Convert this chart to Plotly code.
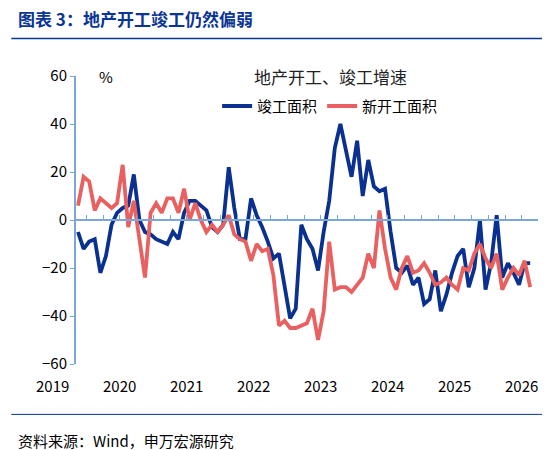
import plotly.graph_objects as go

# monthly yoy growth (%), index 0 = first month shown
completed = [-5, -12, -9, -8, -22, -15, -2, 3, 5, 6, 19, 0, -5, -6, -8, -9, -10, -5, -8, 3,
             8, 8, 6, 4, -3, -5, -2, 22, 5, -8, -8, 9, 2, -3, -9, -16, -14, -28, -41, -37,
             -2, -8, -12, -21, -5, 8, 30, 40, 28, 18, 33, 10, 25, 14, 12, 13, -5, -20, -22, -19,
             -27, -24, -35, -33, -21, -38, -31, -22, -15, -12, -28, -20, 0, -29, -18, 2, -24, -18, -22, -27,
             -18, -18]
new_starts = [6, 18, 16, 4, 9, 7, 5, 7, 23, -3, 8, -8, -24, 3, 7, 3, 9, 9, 3, 13,
              0, 7, 0, -5, -2, -5, -2, 2, -6, -8, -9, -17, -10, -13, -12, -23, -44, -42, -45, -45,
              -44, -43, -37, -50, -38, -9, -29, -28, -28, -30, -27, -24, -14, -20, 4, -12, -24, -29, -20, -15,
              -22, -21, -18, -22, -27, -26, -24, -27, -29, -20, -21, -14, -10, -16, -20, -14, -29, -24, -20, -23,
              -17, -28]
years = ["2019", "2020", "2021", "2022", "2023", "2024", "2025", "2026"]
year_pos = [-4.5 + 12 * k for k in range(len(years))]

months = list(range(len(completed)))
BLUE = "#0a3190"
RED = "#e8605f"
AXIS = "#7aa7d8"
FONT = "Noto Sans CJK SC"

fig = go.Figure()
fig.add_trace(go.Scatter(x=months, y=completed, name="竣工面积", mode="lines",
                         line=dict(color=BLUE, width=3.8)))
fig.add_trace(go.Scatter(x=months, y=new_starts, name="新开工面积", mode="lines",
                         line=dict(color=RED, width=3.8)))

xr = [-0.36, 82.4]
annotations = []
for lab, pos in zip(years, year_pos):
    annotations.append(dict(text=lab, x=(pos - xr[0]) / (xr[1] - xr[0]), y=-0.03,
                            xref="paper", yref="paper", xanchor="center", yanchor="top",
                            showarrow=False, font=dict(size=15, color="black")))
annotations += [
    dict(text="地产开工、竣工增速", x=0.55, y=1.0, xref="paper", yref="paper",
         xanchor="center", yanchor="middle", showarrow=False, font=dict(size=17, color="#222")),
    dict(text="%", x=0.065, y=1.0, xref="paper", yref="paper", xanchor="center", yanchor="middle",
         showarrow=False, font=dict(size=15, color="black")),
    dict(text="<b>图表 3：地产开工竣工仍然偏弱</b>", x=-0.13, y=1.2, xref="paper", yref="paper",
         xanchor="left", yanchor="middle", showarrow=False, font=dict(size=17, color="#0b3594")),
    dict(text="资料来源：Wind，申万宏源研究", x=-0.13, y=-0.265, xref="paper", yref="paper",
         xanchor="left", yanchor="middle", showarrow=False, font=dict(size=15, color="black")),
]

fig.update_layout(
    width=550, height=450,
    margin=dict(l=68, r=20, t=68, b=94),
    paper_bgcolor="white", plot_bgcolor="white",
    font=dict(family=FONT),
    showlegend=True,
    legend=dict(orientation="h", x=0.55, xanchor="center", y=0.895, yanchor="middle",
                font=dict(size=15, color="black"), bgcolor="rgba(0,0,0,0)"),
    annotations=annotations,
    shapes=[
        dict(type="line", xref="paper", yref="paper", x0=-0.14, x1=1.04, y0=1.13, y1=1.13,
             line=dict(color="#0b3594", width=1.5)),
        dict(type="line", xref="paper", yref="paper", x0=-0.14, x1=1.04, y0=-0.175, y1=-0.175,
             line=dict(color="#0b3594", width=1)),
    ],
    xaxis=dict(range=xr, showgrid=False, zeroline=False, showline=True, linecolor=AXIS,
               linewidth=2, anchor="free", position=0.5, ticks="inside", tickcolor=AXIS,
               ticklen=4, dtick=3, tick0=-1.5, showticklabels=False),
    yaxis=dict(range=[-60, 60], dtick=20, showgrid=False, zeroline=False, showline=True,
               linecolor=AXIS, linewidth=2, ticks="outside", tickcolor=AXIS, ticklen=4,
               tickfont=dict(size=15, color="black")),
)

fig.write_html("out.html")
